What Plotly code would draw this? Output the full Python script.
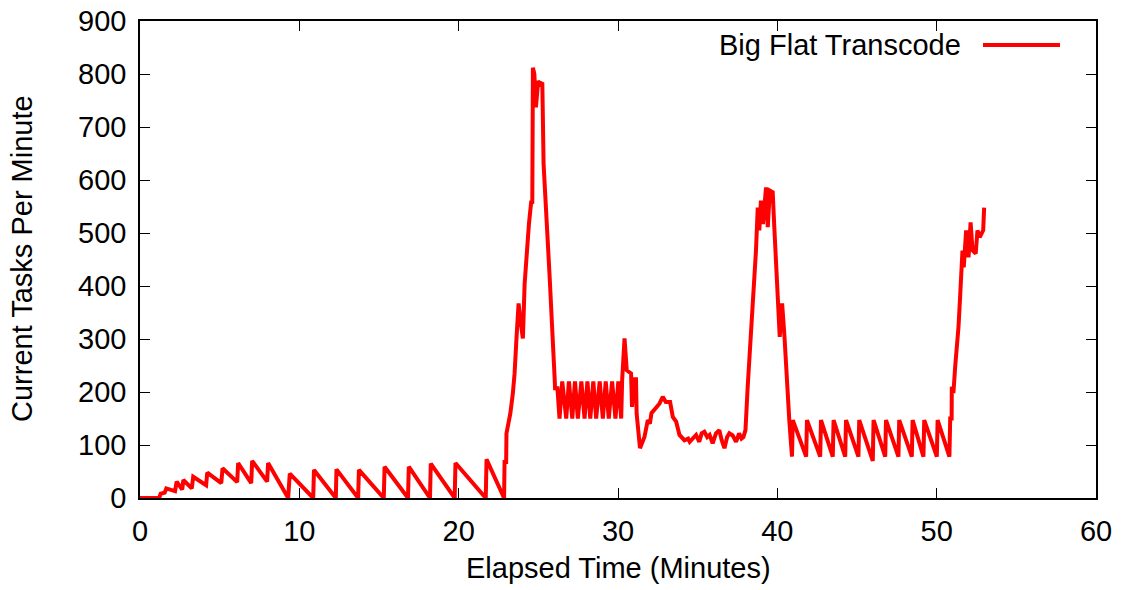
import plotly.graph_objects as go

# Elapsed time (minutes) and current tasks per minute
elapsed_min = [
    0, 1.2, 1.3, 1.55, 1.65, 2.2, 2.3, 2.65, 2.72, 3.25, 3.34, 4.15, 4.22, 5.1, 5.18,
    6.1, 6.16, 6.98, 7.04, 7.98, 8.04, 9.3,
    9.4, 10.87, 10.92, 12.29, 12.33, 13.69, 13.74, 15.3, 15.35, 16.82, 16.87,
    18.2, 18.25, 19.75, 19.8, 21.7, 21.75, 22.85,
    22.88, 22.98, 23.0, 23.24, 23.40, 23.51, 23.62, 23.76, 23.9, 24.03, 24.14, 24.28,
    24.41, 24.56, 24.62, 24.66, 24.75, 24.85, 24.99, 25.1, 25.25, 25.33, 25.60, 25.71,
    26.02, 26.05, 26.2,
    26.33, 26.5, 26.75, 26.92, 27.13, 27.3, 27.48, 27.7, 27.90, 28.08, 28.26, 28.45,
    28.63, 28.85, 29.05, 29.23, 29.42, 29.63, 29.84, 30.02, 30.20,
    30.26, 30.41, 30.55, 30.75, 30.82, 30.88, 31.05, 31.13, 31.17, 31.38, 31.66, 31.87,
    32.0, 32.1, 32.29, 32.45, 32.6, 32.81, 33.0, 33.27, 33.44, 33.65, 33.86, 34.17,
    34.4, 34.5, 34.69, 34.9, 35.1, 35.25, 35.42, 35.6, 35.75, 35.94, 36.15, 36.36,
    36.5, 36.68, 36.85, 36.99, 37.2, 37.41, 37.6, 37.75, 37.87, 37.93, 38.0, 38.14,
    38.29, 38.41, 38.56, 38.66, 38.77, 38.87, 38.97, 39.1, 39.29, 39.4, 39.53, 39.71,
    39.8, 40.08, 40.15, 40.3, 40.45, 40.75, 40.88, 40.92, 40.97,
    41.81, 41.86, 42.69, 42.74, 43.48, 43.53, 44.26, 44.31, 45.09, 45.14, 45.99, 46.04,
    46.77, 46.82, 47.60, 47.65, 48.44, 48.49, 49.17, 49.22, 50.01, 50.06, 50.8,
    50.85, 50.94, 50.95, 51.05, 51.16, 51.31, 51.37, 51.46, 51.54, 51.62, 51.7, 51.85,
    52.0, 52.13, 52.25, 52.45, 52.56, 52.7, 52.92, 52.98,
]
tasks_per_min = [
    0, 0, 8, 10, 18, 13, 31, 16, 34, 18, 40, 24, 48, 28, 56,
    30, 66, 28, 70, 31, 66, 0,
    46, 0, 53, 0, 54, 0, 53, 0, 59, 0, 59,
    0, 65, 0, 66, 0, 73, 0,
    68, 68, 122, 159, 197, 235, 297, 367, 330, 301, 404, 473,
    517, 561, 555, 812, 800, 737, 787, 780, 784, 630, 454, 417,
    228, 207, 207,
    150, 220, 150, 220, 150, 220, 150, 220, 150, 220, 150, 220,
    150, 220, 150, 220, 150, 220, 150, 220, 150,
    222, 301, 241, 235, 235, 172, 224, 224, 159, 94, 115, 147,
    140, 160, 166, 172, 178, 191, 181, 181, 153, 144, 119, 109,
    112, 106, 112, 119, 106, 122, 125, 115, 119, 103, 122, 128,
    110, 94, 115, 122, 118, 106, 122, 112, 115, 122, 128, 210,
    279, 348, 404, 467, 548, 505, 561, 517, 586, 511, 580, 577,
    517, 367, 304, 367, 304, 147, 97, 78, 147,
    78, 147, 78, 147, 78, 147, 78, 147, 78, 147, 70, 147,
    78, 147, 78, 147, 78, 147, 78, 147, 78, 147, 78,
    150, 150, 210, 198, 247, 291, 323, 373, 410, 467, 435, 505,
    454, 520, 467, 461, 505, 492, 505, 548,
]

x_ticks = [0, 10, 20, 30, 40, 50, 60]
y_ticks = [0, 100, 200, 300, 400, 500, 600, 700, 800, 900]
series_name = "Big Flat Transcode"

FONT = "Liberation Sans, Arial, Helvetica, sans-serif"
FS = 29

fig = go.Figure()
fig.add_trace(go.Scatter(
    x=elapsed_min, y=tasks_per_min, mode="lines", name=series_name,
    line=dict(color="#ff0000", width=4), showlegend=False,
))

W, H = 1123, 590
L, R, T, B = 140, 27, 21, 92
pw, ph = W - L - R, H - T - B

axis_common = dict(
    showline=True, linecolor="black", linewidth=1.5, mirror="ticks",
    ticks="inside", ticklen=10, tickwidth=1.2, tickcolor="black",
    showgrid=False, zeroline=False, automargin=False,
    tickfont=dict(family=FONT, size=FS, color="black"),
)

fig.update_layout(
    width=W, height=H,
    margin=dict(l=L, r=R, t=T, b=B, autoexpand=False),
    paper_bgcolor="white", plot_bgcolor="white",
    font=dict(family=FONT, size=FS, color="black"),
    xaxis=dict(range=[0, 60], tickvals=x_ticks, ticklabelstandoff=6, **axis_common),
    yaxis=dict(range=[0, 900], tickvals=y_ticks, ticklabelstandoff=6, **axis_common),
    annotations=[
        dict(text="Elapsed Time (Minutes)", xref="paper", yref="paper",
             x=0.5, y=-(568 - 498) / ph, xanchor="center", yanchor="middle",
             showarrow=False, font=dict(family=FONT, size=FS)),
        dict(text="Current Tasks Per Minute", xref="paper", yref="paper",
             x=-(L - 22) / pw, y=(498 - 259) / ph, xanchor="center", yanchor="middle",
             textangle=-90, showarrow=False, font=dict(family=FONT, size=FS)),
        dict(text=series_name, xref="paper", yref="paper",
             x=(963 - L) / pw, y=(498 - 45) / ph, xanchor="right", yanchor="middle",
             showarrow=False, font=dict(family=FONT, size=FS)),
    ],
    shapes=[
        dict(type="line", xref="paper", yref="paper",
             x0=(983 - L) / pw, x1=(1060 - L) / pw,
             y0=(498 - 45) / ph, y1=(498 - 45) / ph,
             line=dict(color="#ff0000", width=4)),
    ],
)

fig.write_html("out.html", config={"displayModeBar": False},
               post_script="document.body.style.margin='0';")
